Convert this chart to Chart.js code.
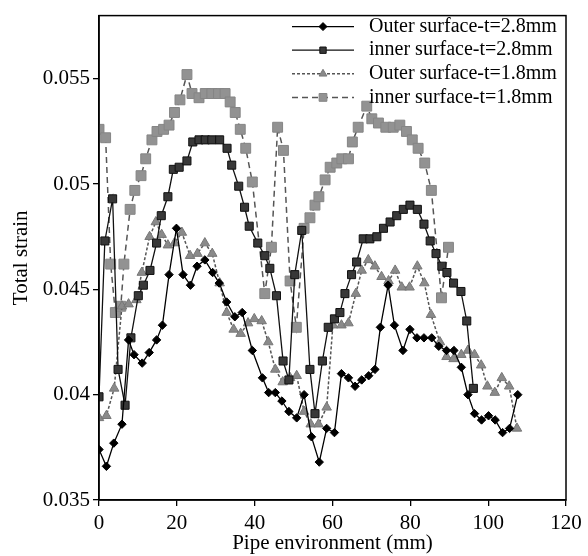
<!DOCTYPE html>
<html>
<head>
<meta charset="utf-8">
<script src="https://cdn.jsdelivr.net/npm/chart.js@4/dist/chart.umd.min.js"></script>
<style>
  body { margin: 0; background: #fff; }
  canvas { display: block; }
</style>
</head>
<body>
<canvas id="strainChart" width="588" height="556"></canvas>
<script>
// position along the pipe (mm) and total strain, one pair of arrays per case
const xOuter28 = [0, 1.9, 3.8, 5.9, 7.6, 9.0, 11.1, 12.9, 14.8, 16.3, 18.0, 19.9, 21.6, 23.5, 25.2, 27.2, 29.2, 30.9, 32.8, 34.9, 36.8, 39.4, 42.0, 43.6, 45.3, 47.0, 48.8, 50.8, 52.7, 54.6, 56.6, 58.5, 60.5, 62.3, 64.1, 65.8, 67.5, 69.3, 70.9, 72.3, 74.3, 75.9, 78.1, 79.9, 81.7, 83.5, 85.5, 87.3, 89.3, 91.2, 93.1, 94.8, 96.5, 98.3, 100.1, 101.8, 103.7, 105.5, 107.6];
const yOuter28 = [0.0374, 0.0366, 0.0377, 0.0386, 0.0426, 0.0419, 0.0415, 0.0420, 0.0426, 0.0433, 0.0457, 0.0479, 0.0457, 0.0452, 0.0461, 0.0464, 0.0458, 0.0453, 0.0444, 0.0437, 0.0439, 0.0421, 0.0408, 0.0401, 0.0401, 0.0397, 0.0392, 0.0389, 0.0400, 0.0380, 0.0368, 0.0384, 0.0382, 0.0410, 0.0408, 0.0404, 0.0407, 0.0409, 0.0412, 0.0432, 0.0452, 0.0433, 0.0421, 0.0431, 0.0427, 0.0427, 0.0427, 0.0423, 0.0421, 0.0421, 0.0413, 0.0400, 0.0391, 0.0388, 0.0390, 0.0388, 0.0382, 0.0384, 0.0400];

const xInner28 = [0, 1.5, 3.5, 4.9, 6.7, 8.2, 10.1, 11.4, 13.1, 14.8, 16.0, 17.7, 19.1, 20.6, 22.6, 24.1, 25.7, 27.3, 29.0, 31.0, 32.9, 34.1, 35.9, 37.4, 38.6, 40.8, 42.6, 43.9, 45.6, 47.3, 48.8, 50.3, 52.1, 54.2, 55.5, 57.4, 58.9, 60.5, 61.9, 63.2, 64.9, 66.2, 67.9, 69.6, 71.4, 73.1, 74.8, 76.5, 78.2, 79.9, 81.8, 83.5, 85.1, 86.6, 88.1, 89.4, 91.1, 93.0, 94.5, 96.2];
const yInner28 = [0.0399, 0.0473, 0.0493, 0.0412, 0.0395, 0.0427, 0.0447, 0.0452, 0.0459, 0.0472, 0.0485, 0.0494, 0.0507, 0.0508, 0.0511, 0.0520, 0.0521, 0.0521, 0.0521, 0.0521, 0.0517, 0.0509, 0.0499, 0.0489, 0.0480, 0.0472, 0.0466, 0.0460, 0.0447, 0.0416, 0.0407, 0.0457, 0.0478, 0.0412, 0.0391, 0.0416, 0.0432, 0.0436, 0.0439, 0.0448, 0.0457, 0.0463, 0.0474, 0.0474, 0.0475, 0.0479, 0.0482, 0.0485, 0.0488, 0.0490, 0.0488, 0.0481, 0.0473, 0.0467, 0.0461, 0.0458, 0.0453, 0.0449, 0.0435, 0.0403];

const xOuter18 = [0, 1.9, 3.9, 5.9, 7.6, 9.6, 11.0, 13.0, 14.6, 16.1, 17.7, 19.4, 21.3, 23.4, 25.3, 27.2, 29.1, 31.0, 32.8, 34.6, 36.4, 38.3, 39.9, 41.8, 43.5, 45.3, 47.2, 49.1, 50.8, 52.7, 54.4, 56.4, 58.5, 60.1, 62.3, 64.1, 66.0, 67.5, 69.2, 70.9, 72.6, 74.4, 76.1, 77.8, 79.8, 81.8, 83.6, 85.3, 87.6, 89.3, 91.1, 93.1, 94.8, 96.5, 98.2, 99.8, 101.7, 103.5, 105.4, 107.4];
const yOuter18 = [0.0389, 0.0390, 0.0403, 0.0442, 0.0443, 0.0445, 0.0458, 0.0475, 0.0482, 0.0476, 0.0471, 0.0472, 0.0477, 0.0466, 0.0467, 0.0472, 0.0467, 0.0453, 0.0439, 0.0431, 0.0429, 0.0434, 0.0436, 0.0435, 0.0425, 0.0412, 0.0406, 0.0408, 0.0409, 0.0392, 0.0386, 0.0386, 0.0394, 0.0433, 0.0433, 0.0434, 0.0448, 0.0459, 0.0464, 0.0461, 0.0456, 0.0454, 0.0459, 0.0451, 0.0451, 0.0461, 0.0453, 0.0438, 0.0425, 0.0418, 0.0417, 0.0419, 0.0421, 0.0419, 0.0414, 0.0404, 0.0401, 0.0408, 0.0404, 0.0384];

const xInner18 = [0, 1.7, 3.0, 4.2, 5.6, 6.4, 8.0, 9.2, 10.8, 12.0, 13.6, 14.9, 16.6, 18.0, 19.4, 20.8, 22.6, 23.9, 25.7, 27.3, 29.0, 30.7, 32.4, 33.7, 35.0, 36.3, 37.7, 39.4, 42.6, 44.3, 45.9, 47.4, 49.1, 50.7, 52.7, 54.2, 55.5, 56.5, 58.1, 59.4, 61.1, 62.4, 64.1, 65.1, 66.6, 68.8, 70.1, 71.8, 73.7, 75.6, 77.3, 79.0, 80.5, 82.0, 83.7, 85.4, 88.0, 89.8];
const yInner18 = [0.0526, 0.0522, 0.0462, 0.0439, 0.0442, 0.0462, 0.0488, 0.0497, 0.0504, 0.0512, 0.0521, 0.0525, 0.0526, 0.0528, 0.0534, 0.0540, 0.0552, 0.0543, 0.0541, 0.0543, 0.0543, 0.0543, 0.0543, 0.0539, 0.0534, 0.0526, 0.0517, 0.0501, 0.0448, 0.0470, 0.0527, 0.0516, 0.0454, 0.0432, 0.0479, 0.0484, 0.0490, 0.0494, 0.0502, 0.0508, 0.0510, 0.0512, 0.0512, 0.0520, 0.0527, 0.0537, 0.0531, 0.0529, 0.0527, 0.0527, 0.0528, 0.0525, 0.0521, 0.0517, 0.0510, 0.0497, 0.0446, 0.0470];

const seriesNames = ["Outer surface-t=2.8mm", "inner surface-t=2.8mm", "Outer surface-t=1.8mm", "inner surface-t=1.8mm"];
const xTicks = [0, 20, 40, 60, 80, 100, 120];
const yTicks = [0.035, 0.04, 0.045, 0.05, 0.055];

const serif = "'Liberation Serif', 'Times New Roman', serif";

function toPoints(xs, ys) {
    return xs.map((x, i) => ({ x: x, y: ys[i] }));
}

function drawMarker(ctx, style, x, y, r) {
    ctx.beginPath();
    if (style === "rectRot") {
        ctx.moveTo(x, y - r);
        ctx.lineTo(x + r, y);
        ctx.lineTo(x, y + r);
        ctx.lineTo(x - r, y);
    } else if (style === "triangle") {
        ctx.moveTo(x, y - r);
        ctx.lineTo(x + r * 0.866, y + r / 2);
        ctx.lineTo(x - r * 0.866, y + r / 2);
    } else {
        const s = r * Math.SQRT1_2;
        ctx.rect(x - s, y - s, 2 * s, 2 * s);
    }
    ctx.closePath();
    ctx.fill();
    ctx.stroke();
}

// box round the plot + the legend in the top right corner
const frameLegend = {
    id: "frameLegend",
    afterDraw(chart) {
        const ctx = chart.ctx;
        const a = chart.chartArea;
        ctx.save();
        ctx.strokeStyle = "#000";
        ctx.lineWidth = 1.5;
        ctx.setLineDash([]);
        ctx.strokeRect(a.left, a.top, a.right - a.left, a.bottom - a.top);

        const legendSizes = [4, 4.5, 4.5, 5.5];
        chart.data.datasets.forEach((ds, i) => {
            const y = a.top + 11 + i * 23.6;
            const x0 = a.left + 193;
            const x1 = x0 + 62;
            ctx.strokeStyle = ds.borderColor;
            ctx.lineWidth = ds.borderWidth;
            ctx.setLineDash(ds.borderDash || []);
            ctx.beginPath();
            ctx.moveTo(x0, y);
            ctx.lineTo(x1, y);
            ctx.stroke();
            ctx.setLineDash([]);
            ctx.fillStyle = ds.pointBackgroundColor;
            ctx.strokeStyle = ds.pointBorderColor;
            ctx.lineWidth = 1;
            drawMarker(ctx, ds.pointStyle, (x0 + x1) / 2, y, legendSizes[i]);
            ctx.fillStyle = "#000";
            ctx.font = "20px " + serif;
            ctx.textBaseline = "middle";
            ctx.fillText(ds.label, a.left + 270, y);
        });
        ctx.restore();
    },
};

const canvas = document.getElementById("strainChart");

new Chart(canvas, {
    type: "line",
    data: {
        datasets: [
            {
                label: seriesNames[0],
                data: toPoints(xOuter28, yOuter28),
                borderColor: "#000",
                borderWidth: 1.3,
                pointStyle: "rectRot",
                pointRadius: 4.2,
                pointBackgroundColor: "#000",
                pointBorderColor: "#000",
                pointBorderWidth: 1,
            },
            {
                label: seriesNames[1],
                data: toPoints(xInner28, yInner28),
                borderColor: "#111",
                borderWidth: 1.3,
                pointStyle: "rect",
                pointRadius: 5.7,
                pointBackgroundColor: "#383838",
                pointBorderColor: "#111",
                pointBorderWidth: 1,
            },
            {
                label: seriesNames[2],
                data: toPoints(xOuter18, yOuter18),
                borderColor: "#555",
                borderWidth: 1.5,
                borderDash: [3, 2],
                pointStyle: "triangle",
                pointRadius: 5.5,
                pointBackgroundColor: "#8a8a8a",
                pointBorderColor: "#777",
                pointBorderWidth: 1,
            },
            {
                label: seriesNames[3],
                data: toPoints(xInner18, yInner18),
                borderColor: "#555",
                borderWidth: 1.5,
                borderDash: [6, 4],
                pointStyle: "rect",
                pointRadius: 7,
                pointBackgroundColor: "#929292",
                pointBorderColor: "#858585",
                pointBorderWidth: 1,
            },
        ],
    },
    options: {
        responsive: false,
        animation: false,
        devicePixelRatio: 1,
        layout: {
            padding: { top: 13, right: 22, left: 0, bottom: 0 },
        },
        plugins: {
            legend: { display: false },
            tooltip: { enabled: false },
        },
        scales: {
            x: {
                type: "linear",
                min: 0,
                max: 120,
                afterBuildTicks: (s) => {
                    s.ticks = xTicks.map((v) => ({ value: v }));
                },
                afterFit: (s) => {
                    s.height = 56;
                },
                ticks: {
                    color: "#000",
                    padding: 5,
                    maxRotation: 0,
                    font: { family: serif, size: 21 },
                },
                grid: {
                    drawOnChartArea: false,
                    tickLength: 6,
                    color: "#000",
                    lineWidth: 1.3,
                },
                border: { color: "#000", width: 1.5 },
                title: {
                    display: true,
                    text: "Pipe environment (mm)",
                    color: "#000",
                    padding: { top: 0, bottom: 0 },
                    font: { family: serif, size: 21 },
                },
            },
            y: {
                min: 0.035,
                max: 0.058,
                afterBuildTicks: (s) => {
                    s.ticks = yTicks.map((v) => ({ value: v }));
                },
                afterFit: (s) => {
                    s.width = 99;
                },
                ticks: {
                    color: "#000",
                    padding: 3,
                    font: { family: serif, size: 21 },
                    callback: (v) => String(v),
                },
                grid: {
                    drawOnChartArea: false,
                    tickLength: 6,
                    color: "#000",
                    lineWidth: 1.3,
                },
                border: { color: "#000", width: 1.5 },
                title: {
                    display: true,
                    text: "Total strain",
                    color: "#000",
                    padding: { top: 9, bottom: 0 },
                    font: { family: serif, size: 21 },
                },
            },
        },
    },
    plugins: [frameLegend],
});
</script>
</body>
</html>
